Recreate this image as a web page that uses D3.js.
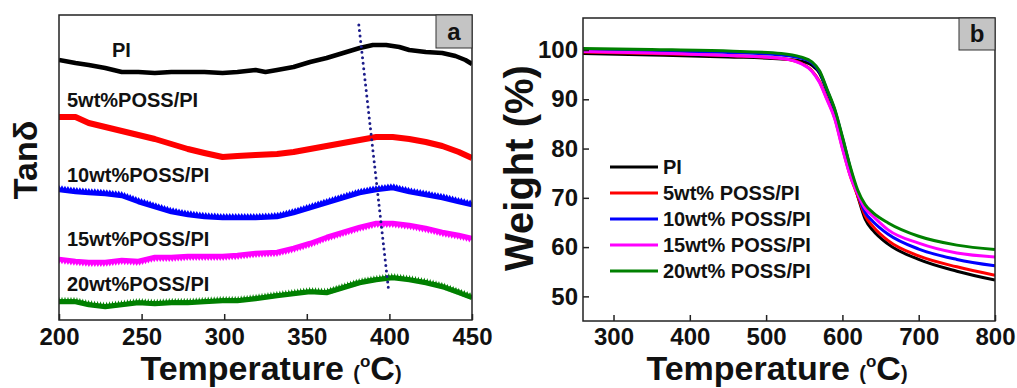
<!DOCTYPE html>
<html lang="en">
<head>
<meta charset="UTF-8" />
<title>Tanδ and TGA of POSS/PI films</title>
<style>
  body { margin: 0; background: #fff; }
  svg text { font-family: Arial, "Liberation Sans", sans-serif; font-weight: bold; fill: #111; }
</style>
</head>
<body>
<script src="https://cdn.jsdelivr.net/npm/d3@7"></script>
<svg id="chart" width="1017" height="388"></svg>
<script>
// ---- panel a: tan delta (arbitrary units, curves offset vertically) ----
const tempPI = [200,210,218,228,238,248,258,268,278,288,299,308,319,325,332,342,352,362,372,382,390,398,406,412,422,432,440,446,450];
const tanPI  = [260,257,255,252,248,248,247,248,248,248,247,248,250,248,250,253,258,262,267,272,275,275,273,270,268,267,264,260,256];

const tempA  = [200,210,218,228,238,248,258,268,278,288,299,308,319,332,342,352,362,372,382,392,402,412,422,432,442,450];
const tan5   = [203,203,197,193,189,185,181,176,171,167,163,164,165,166,168,171,174,177,180,183,183,181,178,174,168,162];
const tan10  = [130,128,127,126,124,118,113,108,105,103,102,102,102,103,107,112,117,122,127,130,132,128,125,122,118,115];
const tan15  = [61,59,58,58,60,59,63,63,64,64,64,65,67,68,72,77,83,88,93,97,97,95,92,88,85,82];
const tan20  = [18,18,15,13,15,17,16,17,17,18,19,19,21,24,26,28,27,32,37,40,42,40,37,33,27,22];

const peakLineT = [381.5, 399.5];
const peakLineV = [295, 30];

const labelsA = ["PI", "5wt%POSS/PI", "10wt%POSS/PI", "15wt%POSS/PI", "20wt%POSS/PI"];

// ---- panel b: TGA ----
const tempB  = [260,350,450,520,545,560,570,580,590,600,610,620,630,640,660,700,750,800];
const wPI    = [99.3,99.0,98.6,98.2,97.8,96.9,95.3,91.6,87.6,82.0,76.0,70.4,65.6,63.4,60.6,57.5,55.1,53.3];
const w5     = [99.6,99.3,98.9,98.3,97.4,95.8,93.6,90.0,86.2,80.2,74.6,70.4,66.3,64.2,61.3,58.2,56.0,54.3];
const w10    = [100.0,99.8,99.5,99.0,98.4,97.4,95.6,91.8,87.8,82.2,76.2,71.0,67.0,65.2,62.6,59.6,57.5,56.2];
const w15    = [99.7,99.4,98.9,98.3,97.3,95.7,93.4,89.8,86.0,80.0,74.6,70.8,67.8,66.3,63.5,60.8,58.8,58.0];
const w20    = [100.3,100.1,99.8,99.3,98.6,97.6,95.8,92.0,88.0,82.4,76.5,71.6,68.6,67.0,64.9,62.2,60.4,59.5];
const legendB = ["PI", "5wt% POSS/PI", "10wt% POSS/PI", "15wt% POSS/PI", "20wt% POSS/PI"];

const colors = ["#000000", "#ff0000", "#0000ff", "#ff00ff", "#008000"];

const svg = d3.select("#chart");
svg.append("rect").attr("width", 1017).attr("height", 388).attr("fill", "#fff");

// ================= panel a =================
const ax = d3.scaleLinear().domain([200, 450]).range([59, 472]);
const ay = d3.scaleLinear().domain([0, 305]).range([320, 15]);

svg.append("clipPath").attr("id", "clipA").append("rect")
  .attr("x", 59).attr("y", 15).attr("width", 413).attr("height", 305);
const ga = svg.append("g").attr("clip-path", "url(#clipA)");

const seriesA = [
  { t: tempPI, v: tanPI, w: 4.5 },
  { t: tempA, v: tan5, w: 6 },
  { t: tempA, v: tan10, w: 4.5, sym: d3.symbolTriangle, rot: 0 },
  { t: tempA, v: tan15, w: 4.5, sym: d3.symbolTriangle, rot: 180 },
  { t: tempA, v: tan20, w: 4.5, sym: d3.symbolStar, rot: 0 }
];
const lineA = d3.line().x(d => ax(d[0])).y(d => ay(d[1]));

seriesA.forEach((s, i) => {
  const pts = s.t.map((t, k) => [t, s.v[k]]);
  const p = ga.append("path").datum(pts)
    .attr("d", lineA).attr("fill", "none")
    .attr("stroke", colors[i]).attr("stroke-width", s.w)
    .attr("stroke-linejoin", "round");
  if (s.sym) {
    // dense small markers along the trace, like the original
    const node = p.node(), L = node.getTotalLength();
    const marks = d3.range(0, L, 3).map(l => node.getPointAtLength(l));
    ga.append("g").selectAll("path").data(marks).join("path")
      .attr("d", d3.symbol(s.sym, 16))
      .attr("transform", m => `translate(${m.x},${m.y - (s.rot ? -1.5 : 1.5)}) rotate(${s.rot})`)
      .attr("fill", colors[i]);
  }
});

// dotted guide through the peaks
ga.append("line")
  .attr("x1", ax(peakLineT[0])).attr("y1", ay(peakLineV[0]))
  .attr("x2", ax(peakLineT[1])).attr("y2", ay(peakLineV[1]))
  .attr("stroke", "#1c1c8a").attr("stroke-width", 3)
  .attr("stroke-linecap", "round").attr("stroke-dasharray", "0 5.5");

// curve labels
const labA = [[112, 57], [67, 107], [67, 182], [67, 246], [67, 291]];
svg.append("g").selectAll("text").data(labelsA).join("text")
  .attr("x", (d, i) => labA[i][0]).attr("y", (d, i) => labA[i][1])
  .attr("font-size", 20).text(d => d);

svg.append("rect").attr("x", 59).attr("y", 15).attr("width", 413).attr("height", 305)
  .attr("fill", "none").attr("stroke", "#222").attr("stroke-width", 1.5);

// x axis with inward major + minor ticks
function xAxis(scale, y, majors, minors, pad) {
  const g = svg.append("g").attr("transform", `translate(0,${y})`);
  g.call(d3.axisBottom(scale).tickValues(minors).tickSizeInner(-3).tickSizeOuter(0).tickFormat(""));
  g.call(d3.axisBottom(scale).tickValues(majors).tickSizeInner(-6).tickSizeOuter(0).tickPadding(pad));
  g.selectAll(".domain").remove();
  g.selectAll("line").attr("stroke", "#222").attr("stroke-width", 1.5);
  g.selectAll("text").attr("font-size", 24).attr("font-family", null);
  return g;
}
xAxis(ax, 320, d3.range(200, 451, 50), d3.range(225, 450, 50), 8);

svg.append("g").attr("transform", "translate(436,15)").call(g => {
  g.append("rect").attr("width", 36).attr("height", 33).attr("fill", "#c4c4c4").attr("stroke", "#333").attr("stroke-width", 1);
  g.append("text").attr("x", 18).attr("y", 25).attr("text-anchor", "middle").attr("font-size", 24).text("a");
});

function tempTitle(cx) {
  const t = svg.append("text").attr("x", cx).attr("y", 380).attr("text-anchor", "middle").attr("font-size", 34);
  t.append("tspan").text("Temperature ");
  t.append("tspan").attr("font-size", 20).text("(");
  t.append("tspan").attr("font-size", 17).attr("dy", -13).text("o");
  t.append("tspan").attr("dy", 13).text("C");
  t.append("tspan").attr("font-size", 20).text(")");
}
tempTitle(271);

svg.append("text").attr("transform", "translate(37,160) rotate(-90)")
  .attr("text-anchor", "middle").attr("font-size", 34).text("Tanδ");

// ================= panel b =================
const bx = d3.scaleLinear().domain([260, 800]).range([583, 995]);
const by = d3.scaleLinear().domain([45, 106.5]).range([321, 18]);

svg.append("clipPath").attr("id", "clipB").append("rect")
  .attr("x", 583).attr("y", 18).attr("width", 412).attr("height", 303);
const gb = svg.append("g").attr("clip-path", "url(#clipB)");

const lineB = d3.line().x(d => bx(d[0])).y(d => by(d[1])).curve(d3.curveMonotoneX);
[wPI, w5, w10, w15, w20].forEach((w, i) => {
  gb.append("path").datum(tempB.map((t, k) => [t, w[k]]))
    .attr("d", lineB).attr("fill", "none")
    .attr("stroke", colors[i]).attr("stroke-width", 3);
});

svg.append("rect").attr("x", 583).attr("y", 18).attr("width", 412).attr("height", 303)
  .attr("fill", "none").attr("stroke", "#222").attr("stroke-width", 1.5);

xAxis(bx, 321, d3.range(300, 801, 100), d3.range(350, 800, 100), 7);

const gy = svg.append("g").attr("transform", "translate(583,0)");
gy.call(d3.axisLeft(by).tickValues(d3.range(55, 106, 10)).tickSizeInner(-3).tickSizeOuter(0).tickFormat(""));
gy.call(d3.axisLeft(by).tickValues(d3.range(50, 101, 10)).tickSizeInner(-6).tickSizeOuter(0).tickPadding(5));
gy.selectAll(".domain").remove();
gy.selectAll("line").attr("stroke", "#222").attr("stroke-width", 1.5);
gy.selectAll("text").attr("font-size", 24).attr("font-family", null);

// legend
const lg = svg.append("g");
legendB.forEach((name, i) => {
  const y = 167 + i * 26;
  lg.append("line").attr("x1", 610).attr("x2", 658).attr("y1", y).attr("y2", y)
    .attr("stroke", colors[i]).attr("stroke-width", 3);
  lg.append("text").attr("x", 663).attr("y", y + 7).attr("font-size", 20).text(name);
});

svg.append("g").attr("transform", "translate(959,18)").call(g => {
  g.append("rect").attr("width", 36).attr("height", 32).attr("fill", "#c4c4c4").attr("stroke", "#333").attr("stroke-width", 1);
  g.append("text").attr("x", 18).attr("y", 24).attr("text-anchor", "middle").attr("font-size", 24).text("b");
});

tempTitle(777);

svg.append("text").attr("transform", "translate(533,168) rotate(-90)")
  .attr("text-anchor", "middle").attr("font-size", 40).text("Weight (%)");
</script>
</body>
</html>
